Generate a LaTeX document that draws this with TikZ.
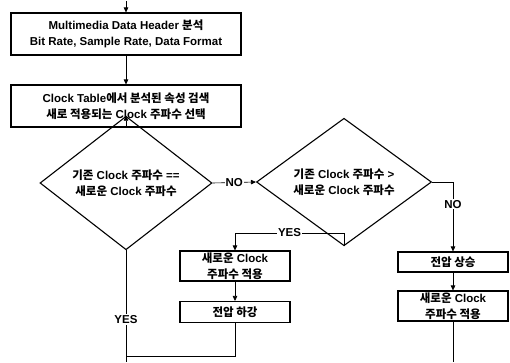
\documentclass[tikz,border=0pt]{standalone}
\usepackage{fontspec}
\setmainfont{Liberation Sans}
\newfontfamily\krfont{Noto Sans CJK KR Bold}
\newcommand{\ko}[1]{{\krfont #1}}
\usetikzlibrary{shapes.geometric,arrows.meta}
\begin{document}
\begin{tikzpicture}[x=1pt,y=-1pt,
  every node/.style={font=\bfseries\fontsize{11.5}{15.5}\selectfont, align=center, inner sep=0pt},
  pbox/.style={draw, line width=1.1pt, rectangle},
  dec/.style={draw, line width=1.1pt, diamond},
  conn/.style={line width=0.6pt},
  arr/.style={conn, -{Triangle[length=5pt,width=4.5pt]}},
  lbl/.style={fill=white, inner sep=1pt}
]
\useasboundingbox (0,0) rectangle (510,362);

\node[pbox, minimum width=230pt, minimum height=42pt] (b1) at (126,34)
  {Multimedia Data Header \ko{분석}\\Bit Rate, Sample Rate, Data Format};
\node[pbox, minimum width=230pt, minimum height=42pt] (b2) at (126,106)
  {Clock Table\ko{에서 분석된 속성 검색}\\\ko{새로 적용되는} Clock \ko{주파수 선택}};
\node[dec, minimum width=172pt, minimum height=68pt] (d1) at (126,183)
  {\ko{기존} Clock \ko{주파수} ==\\\ko{새로운} Clock \ko{주파수}};
\node[dec, minimum width=175pt, minimum height=68pt] (d2) at (344,182)
  {\ko{기존} Clock \ko{주파수} >\\\ko{새로운} Clock \ko{주파수}};
\node[pbox, minimum width=110pt, minimum height=30pt] (b3) at (235,266)
  {\ko{새로운} Clock\\\ko{주파수 적용}};
\node[pbox, minimum width=110pt, minimum height=21pt] (b4) at (235,312)
  {\ko{전압 하강}};
\node[pbox, minimum width=110pt, minimum height=20pt] (b5) at (453,262)
  {\ko{전압 상승}};
\node[pbox, minimum width=110pt, minimum height=30pt] (b6) at (453,306)
  {\ko{새로운} Clock\\\ko{주파수 적용}};

\coordinate (top) at (126,1);
\coordinate (join) at (126,356);
\coordinate (botL) at (126,362);
\coordinate (botR) at (453,362);
\coordinate (ybend) at (344,233);

\draw[arr] (top) -- (b1.north);
\draw[arr] (b1.south) -- (b2.north);
\draw[arr] (b2.south) -- (d1.north);
\draw[arr] (d1.east) -- node[lbl] {NO} (d2.west);
\draw[arr] (d2.east) -| node[lbl, pos=0.66] {NO} (b5.north);
\draw[arr] (d2.south) -- (ybend) -| node[lbl, pos=0.25] {YES} (b3.north);
\draw[arr] (b3.south) -- (b4.north);
\draw[arr] (b5.south) -- (b6.north);
\draw[conn] (d1.south) -- node[lbl, pos=0.62] {YES} (botL);
\draw[conn] (b4.south) |- (join);
\draw[conn] (b6.south) -- (botR);
\end{tikzpicture}
\end{document}
